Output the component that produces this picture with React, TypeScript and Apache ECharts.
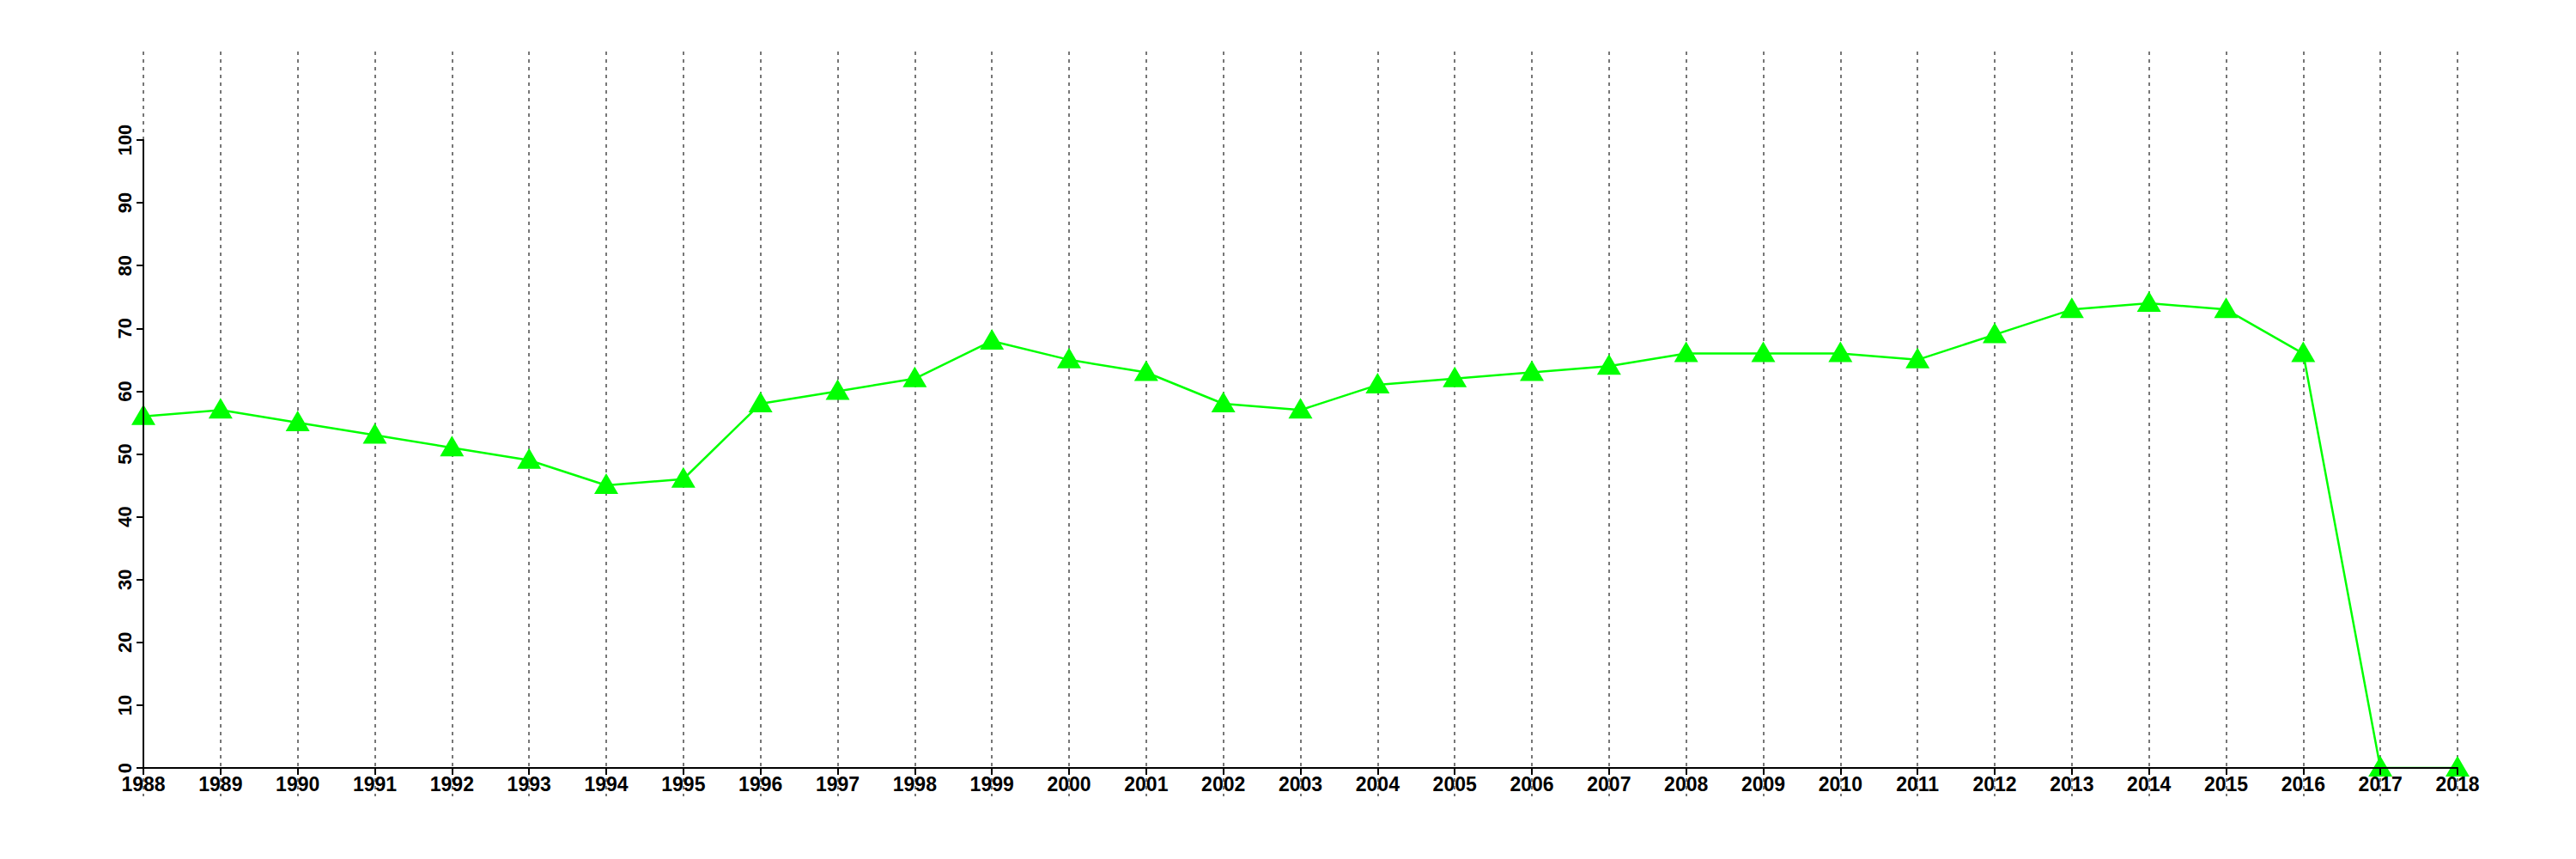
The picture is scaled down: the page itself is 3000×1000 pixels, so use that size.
import React, { useEffect, useRef } from "react";
import * as echarts from "echarts";

const years = [
  "1988", "1989", "1990", "1991", "1992", "1993", "1994", "1995", "1996", "1997",
  "1998", "1999", "2000", "2001", "2002", "2003", "2004", "2005", "2006", "2007",
  "2008", "2009", "2010", "2011", "2012", "2013", "2014", "2015", "2016", "2017", "2018",
];
const values = [
  56, 57, 55, 53, 51, 49, 45, 46, 58, 60,
  62, 68, 65, 63, 58, 57, 61, 62, 63, 64,
  66, 66, 66, 65, 69, 73, 74, 73, 66, 0, 0,
];
const yMin = 0;
const yMax = 100;
const yStep = 10;

const FONT = "'Liberation Sans', Arial, Helvetica, sans-serif";

export default function App() {
  const ref = useRef<HTMLDivElement>(null);
  useEffect(() => {
    if (!ref.current) return;
    const chart = echarts.init(ref.current, undefined, { renderer: "svg" });
    chart.setOption({
      animation: false,
      backgroundColor: "#ffffff",
      grid: [
        { left: 167, right: 138, top: 163, bottom: 106 },
        { left: 167, right: 138, top: 60, bottom: 73 },
      ],
      xAxis: [
        {
          type: "category",
          gridIndex: 0,
          data: years,
          boundaryGap: false,
          axisLine: { show: true, lineStyle: { color: "#000", width: 2 } },
          axisTick: { show: true, length: 8, interval: 0, lineStyle: { color: "#000", width: 2 } },
          axisLabel: {
            show: true,
            interval: 0,
            margin: 7,
            color: "#000",
            fontFamily: FONT,
            fontWeight: "bold",
            fontSize: 23,
          },
          splitLine: { show: false },
          z: 3,
        },
        {
          type: "category",
          gridIndex: 1,
          data: years,
          boundaryGap: false,
          axisLine: { show: false },
          axisTick: { show: false },
          axisLabel: { show: false },
          splitLine: {
            show: true,
            interval: 0,
            lineStyle: { color: "#777777", width: 2, type: [4, 5] },
          },
        },
      ],
      yAxis: [
        {
          type: "value",
          gridIndex: 0,
          min: yMin,
          max: yMax,
          interval: yStep,
          axisLine: { show: true, lineStyle: { color: "#000", width: 2 } },
          axisTick: { show: true, length: 8, lineStyle: { color: "#000", width: 2 } },
          axisLabel: {
            show: true,
            rotate: 90,
            margin: 11,
            color: "#000",
            fontFamily: FONT,
            fontWeight: "bold",
            fontSize: 22,
          },
          splitLine: { show: false },
          z: 3,
        },
        {
          type: "value",
          gridIndex: 1,
          min: 0,
          max: 1,
          show: false,
          splitLine: { show: false },
        },
      ],
      series: [
        {
          type: "line",
          xAxisIndex: 0,
          yAxisIndex: 0,
          data: values,
          symbol: "triangle",
          symbolSize: [28, 24],
          symbolOffset: [0, -2],
          showAllSymbol: true,
          lineStyle: { color: "#00ff00", width: 2.5 },
          itemStyle: { color: "#00ff00" },
          z: 2,
        },
      ],
    });
    return () => chart.dispose();
  }, []);
  return (
    <div
      ref={ref}
      style={{ position: "absolute", left: 0, top: 0, width: 3000, height: 1000 }}
    />
  );
}
